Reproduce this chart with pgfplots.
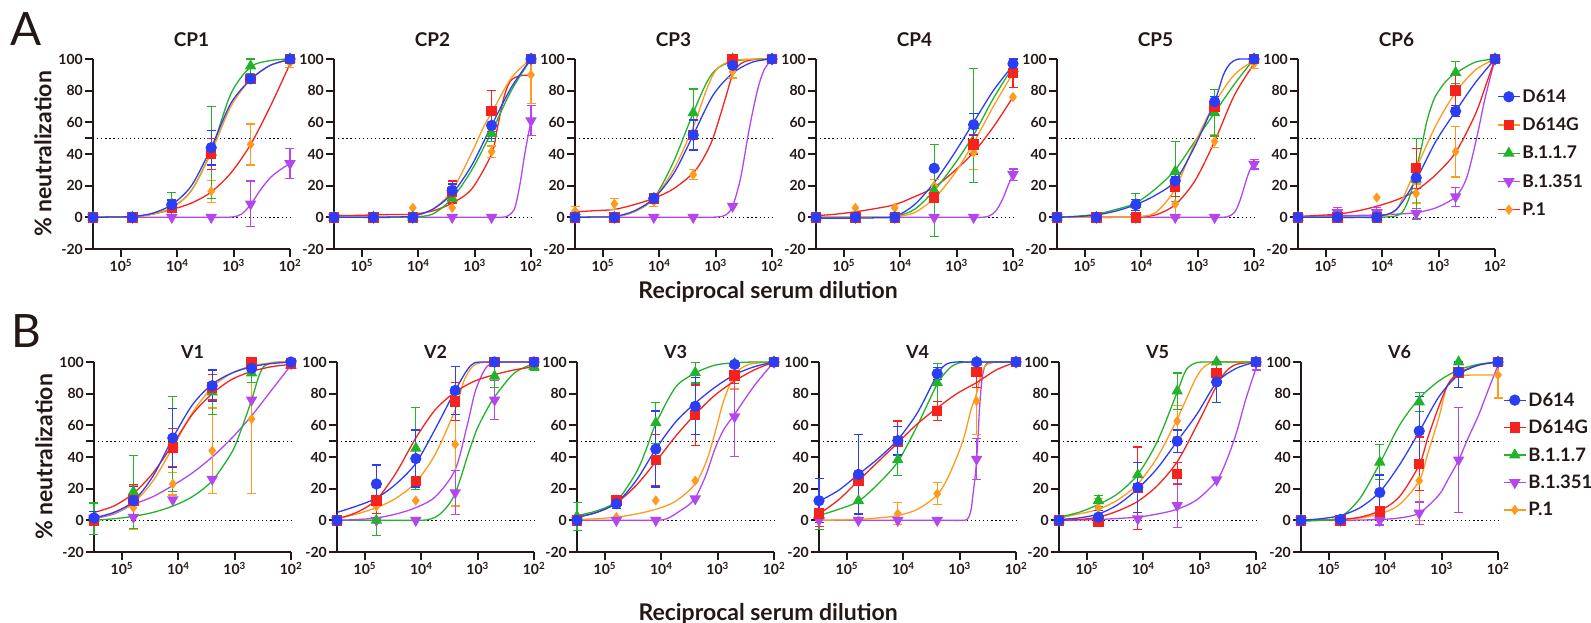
\documentclass[border=0pt]{standalone}
\usepackage{fontspec}
\setmainfont{Lato}
\usepackage{pgfplots}
\pgfplotsset{compat=1.18}

\definecolor{ink}{HTML}{231815}
\definecolor{cb}{HTML}{2B3DF5}
\definecolor{cr}{HTML}{F5231C}
\definecolor{cg}{HTML}{22B32A}
\definecolor{cp}{HTML}{B446EE}
\definecolor{co}{HTML}{FF9A1F}

\newcommand\tfont{\fontsize{14}{16}\selectfont\bfseries}

\pgfplotsset{
  panel/.style={
    scale only axis, width=197pt, height=190pt,
    xmin=2, xmax=5.495, x dir=reverse, ymin=-20, ymax=100, clip=false,
    axis x line*=bottom, axis y line*=left,
    axis line style={line width=2.2pt, draw=ink},
    tick align=outside, major tick length=8pt,
    every tick/.style={line width=2pt, draw=ink},
    xtick={2,3,4,5},
    xticklabels={10\textsuperscript{2},10\textsuperscript{3},10\textsuperscript{4},10\textsuperscript{5}},
    ytick={-20,0,20,40,60,80,100},
    yticklabels={-20,0,20,40,60,80,100},
    extra y ticks={50}, extra y tick labels={},
    tick label style={font=\tfont, text=ink},
    yticklabel style={inner sep=2pt},
    xticklabel style={inner sep=2pt},
  },
  rowA/.style={panel, every axis title/.style={at={(0.5,1)}, anchor=center, yshift=19pt,
      font=\fontsize{19}{21}\selectfont\bfseries, text=ink}},
  rowB/.style={panel, every axis title/.style={at={(0.5,1)}, anchor=center, yshift=10pt,
      font=\fontsize{18}{20}\selectfont\bfseries, text=ink}},
  ylab/.style={ylabel={\% neutralization},
    every axis y label/.style={at={(axis description cs:-0.254,0.5)}, anchor=center, rotate=90,
      font=\fontsize{23}{25}\selectfont\bfseries, text=ink}},
  xlab/.style={xlabel={Reciprocal serum dilution},
    every axis x label/.style={at={(axis description cs:#1)}, anchor=center,
      font=\fontsize{23}{25}\selectfont\bfseries, text=ink}},
  refl/.style={black, line width=1.3pt, dash pattern=on 1.3pt off 2.8pt, forget plot},
  cur/.style={smooth, line width=1.3pt, mark=none},
  dat/.style={only marks, line width=1.2pt,
    /pgfplots/error bars/y dir=both, /pgfplots/error bars/y explicit,
    /pgfplots/error bars/error bar style={line width=1.2pt},
    /pgfplots/error bars/error mark options={rotate=90, mark size=4.5pt, line width=1.2pt}},
  sD/.style={dat, cb, mark=*, mark size=5pt},
  sG/.style={dat, cr, mark=square*, mark size=4.6pt},
  sK/.style={dat, cg, mark=triangle*, mark size=5.5pt},
  sS/.style={dat, cp, mark=triangle*, mark size=5.5pt, mark options={rotate=180}},
  sP/.style={dat, co, mark=diamond*, mark size=4.2pt},
  leg/.style={legend style={at={(axis description cs:#1)}, anchor=north west, draw=none, fill=none,
      inner sep=0pt, text=ink, /tikz/column 2/.style={column sep=10pt}},
    legend cell align=left,
    legend image code/.code={\draw[mark repeat=2, mark phase=2, ##1] plot coordinates {(0pt,0pt) (11pt,0pt) (22pt,0pt)};}},
}

\newcommand\refs{%
  \addplot[refl] coordinates {(5.495,0) (2,0)};
  \addplot[refl] coordinates {(5.495,50) (2,50)};}

\begin{document}
\begin{tikzpicture}
\path[use as bounding box] (0pt,0pt) rectangle (1591pt,-623pt);
\node[font=\fontsize{46}{46}\selectfont, text=ink] at (26pt,-29pt) {A};
\node[font=\fontsize{46}{46}\selectfont, text=ink] at (26pt,-331pt) {B};

% ---------------- row A ----------------
\begin{axis}[rowA, ylab, at={(93pt,-249pt)}, title={CP1}]
\refs
\addplot[cur,cp] coordinates {(5.495,0)(5.146,0)(4.796,0)(4.447,0)(4.097,0)(3.748,0)(3.398,0)(3.2,0)(3.007,0.3)(2.86,2)(2.699,8)(2.531,17)(2.35,25)(2.175,30)(2,34)};
\addplot[cur,cr] coordinates {(5.495,0)(5.146,0.2)(4.796,0.5)(4.447,2)(4.097,5)(3.748,9)(3.398,16)(3.049,28)(2.699,46)(2.35,70)(2,97)};
\addplot[cur,cg] coordinates {(5.495,0)(5.146,0.1)(4.796,0.3)(4.447,2)(4.097,6)(3.748,17)(3.398,42)(3.049,78)(2.699,95)(2.35,99)(2,100)};
\addplot[cur,co] coordinates {(5.495,0)(5.146,0.2)(4.796,0.5)(4.447,2)(4.097,6)(3.748,17)(3.398,41)(3.049,70)(2.699,87)(2.35,96)(2,100)};
\addplot[cur,cb] coordinates {(5.495,0)(5.146,0.2)(4.796,0.5)(4.447,2.5)(4.097,8)(3.748,20)(3.398,44)(3.049,72)(2.699,87)(2.35,96)(2,99.5)};
\addplot[sP] coordinates {(5.495,0) (4.796,0) (4.097,7) +- (0,4) (3.398,16.5) +- (0,7) (2.699,46) +- (0,13) (2,97.5) +- (0,3)};
\addplot[sS] coordinates {(5.495,0) (4.796,0) (4.097,0) (3.398,0) (2.699,8.5) +- (0,14.5) (2,34) +- (0,9.5)};
\addplot[sK] coordinates {(5.495,0) (4.796,0) (4.097,8.5) +- (0,7) (3.398,41) +- (0,29) (2.699,95.5) += (0,4.5) -= (0,5) (2,100)};
\addplot[sG] coordinates {(5.495,0) (4.796,0) (4.097,6) +- (0,2) (3.398,40) +- (0,10) (2.699,87.5) +- (0,2) (2,100)};
\addplot[sD] coordinates {(5.495,0) (4.796,0) (4.097,8) +- (0,3) (3.398,44) +- (0,11) (2.699,87.5) +- (0,2) (2,100)};
\end{axis}

\begin{axis}[rowA, at={(334pt,-249pt)}, title={CP2}]
\refs
\addplot[cur,cp] coordinates {(5.495,0)(5.146,0)(4.796,0)(4.447,0)(4.097,0)(3.748,0)(3.398,0)(3.049,0)(2.8,0)(2.6,0)(2.45,0.3)(2.35,2.5)(2.296,5)(2.25,11)(2.19,22)(2.12,38)(2.06,50)(2,61)};
\addplot[cur,cr] coordinates {(5.495,1)(5.146,1.2)(4.796,1.5)(4.447,1.8)(4.097,2)(3.748,4)(3.398,9)(3.049,18)(2.699,40)(2.605,55)(2.486,75)(2.368,86)(2.19,89.5)(2,89.7)};
\addplot[cur,cg] coordinates {(5.495,0)(5.146,0)(4.796,0)(4.447,0)(4.097,0.3)(3.748,2)(3.398,12)(3.049,30)(2.699,54)(2.35,80)(2,100)};
\addplot[cur,co] coordinates {(5.495,0)(5.146,0)(4.796,0)(4.447,0.2)(4.097,0.8)(3.748,5)(3.398,17)(3.049,41)(2.842,57)(2.699,66)(2.35,88)(2,100)};
\addplot[cur,cb] coordinates {(5.495,0)(5.146,0)(4.796,0)(4.447,0.2)(4.097,0.8)(3.748,5)(3.398,15)(3.049,33)(2.699,58)(2.35,82)(2,100)};
\addplot[sP] coordinates {(5.495,0) (4.796,0) (4.097,6) (3.398,6) (2.699,41.5) +- (0,3.5) (2,90) += (0,10) -= (0,18)};
\addplot[sS] coordinates {(5.495,0) (4.796,0) (4.097,0) (3.398,0) (2.699,0) (2,61) +- (0,9.5)};
\addplot[sK] coordinates {(5.495,0) (4.796,0) (4.097,0) (3.398,12) +- (0,3) (2.699,53) +- (0,5) (2,100)};
\addplot[sG] coordinates {(5.495,0) (4.796,0) (4.097,0) (3.398,16) +- (0,7) (2.699,67) +- (0,13) (2,100)};
\addplot[sD] coordinates {(5.495,0) (4.796,0) (4.097,0) (3.398,17) +- (0,4) (2.699,58) +- (0,8) (2,100)};
\end{axis}

\begin{axis}[rowA, xlab={0.98,-0.226}, at={(575pt,-249pt)}, title={CP3}]
\refs
\addplot[cur,cp] coordinates {(5.495,0)(5.146,0)(4.796,0)(4.447,0)(4.097,0)(3.748,0)(3.398,0)(3.15,0)(2.95,0.3)(2.82,1.5)(2.699,7)(2.556,25)(2.408,55)(2.26,80)(2.142,93)(2,100)};
\addplot[cur,cr] coordinates {(5.495,3.5)(5.146,4.2)(4.796,5)(4.447,8)(4.097,12)(3.748,18)(3.398,28)(3.206,38)(3.047,50)(2.853,72)(2.699,90)(2.556,97)(2.35,99.5)(2,100)};
\addplot[cur,cg] coordinates {(5.495,0)(5.146,0.1)(4.796,0.3)(4.447,3.5)(4.097,12)(3.748,35)(3.398,66)(3.147,86)(2.97,94)(2.699,98.5)(2.35,99.8)(2,100)};
\addplot[cur,co] coordinates {(5.495,0)(5.146,0.1)(4.796,0.3)(4.447,3.5)(4.097,12)(3.748,30)(3.398,57)(3.147,82)(2.97,94)(2.699,99)(2.35,99.9)(2,100)};
\addplot[cur,cb] coordinates {(5.495,0)(5.146,0.2)(4.796,0.5)(4.448,4)(4.097,12)(3.738,28)(3.398,52)(3.049,77)(2.699,91)(2.35,98)(2,100)};
\addplot[sP] coordinates {(5.495,4) +- (0,3) (4.796,8.5) +- (0,3.5) (4.097,10) +- (0,3) (3.398,27) +- (0,3) (2.699,92) +- (0,4) (2,100)};
\addplot[sS] coordinates {(5.495,0) (4.796,0) (4.097,0) (3.398,0) (2.699,7) (2,100)};
\addplot[sK] coordinates {(5.495,0) (4.796,0) (4.097,12) (3.398,66) +- (0,15) (2.699,100) (2,100)};
\addplot[sG] coordinates {(5.495,0) (4.796,0) (4.097,12) (3.398,52) (2.699,100) (2,100)};
\addplot[sD] coordinates {(5.495,0) (4.796,0) (4.097,12) (3.398,52) +- (0,9.5) (2.699,96) +- (0,2) (2,100)};
\end{axis}

\begin{axis}[rowA, at={(816pt,-249pt)}, title={CP4}]
\refs
\addplot[cur,cp] coordinates {(5.495,0)(5.146,0)(4.796,0)(4.447,0)(4.097,0)(3.748,0)(3.398,0)(3.049,0)(2.8,0)(2.58,0)(2.45,0.5)(2.35,2.5)(2.284,5)(2.22,9)(2.165,13)(2.077,21)(2,27)};
\addplot[cur,cr] coordinates {(5.495,1)(5.146,2)(4.796,3.5)(4.447,5.5)(4.097,8)(3.748,13)(3.398,19)(3.049,29)(2.699,41)(2.35,57)(2,76)};
\addplot[cur,cg] coordinates {(5.495,0)(5.146,0)(4.796,0)(4.447,0)(4.097,0.5)(3.748,5)(3.398,17)(3.049,33)(2.699,52)(2.35,75)(2,95)};
\addplot[cur,co] coordinates {(5.495,0)(5.146,0)(4.796,0)(4.447,0)(4.097,0.3)(3.748,3)(3.398,12)(3.049,27)(2.699,47)(2.35,70)(2,91)};
\addplot[cur,cb] coordinates {(5.495,-0.5)(5.146,-0.5)(4.796,-0.5)(4.447,-0.3)(4.097,0.5)(3.748,8)(3.398,22)(3.049,40)(2.699,60)(2.35,80)(2,96)};
\addplot[sP] coordinates {(5.495,0) (4.796,6) (4.097,6) (3.398,20) +- (0,4) (2.699,41) +- (0,11) (2,76)};
\addplot[sS] coordinates {(5.495,0) (4.796,0) (4.097,0) (3.398,0) (2.699,0) (2,27) +- (0,3.5)};
\addplot[sK] coordinates {(5.495,0) (4.796,0) (4.097,0) (3.398,17) +- (0,29) (2.699,58) +- (0,36) (2,94)};
\addplot[sG] coordinates {(5.495,0) (4.796,0) (4.097,0) (3.398,12.5) (2.699,46) +- (0,6) (2,91) +- (0,9)};
\addplot[sD] coordinates {(5.495,0) (4.796,0) (4.097,0) (3.398,31) (2.699,58.5) +- (0,7) (2,97) +- (0,3)};
\end{axis}

\begin{axis}[rowA, at={(1057pt,-249pt)}, title={CP5}]
\refs
\addplot[cur,cp] coordinates {(5.495,0)(5.146,0)(4.796,0)(4.447,0)(4.097,0)(3.748,0)(3.398,0)(3.049,0)(2.8,0)(2.6,0)(2.48,0.3)(2.4,1.5)(2.35,3)(2.30,6)(2.25,10.5)(2.2,16)(2.15,22)(2.1,27.5)(2.05,31.5)(2,34)};
\addplot[cur,cr] coordinates {(5.495,0)(5.146,0)(4.796,0)(4.447,0)(4.097,0.2)(3.748,1.5)(3.398,8)(3.049,23)(2.699,48)(2.35,77)(2,97)};
\addplot[cur,cg] coordinates {(5.495,0)(5.146,0.7)(4.796,2)(4.447,5)(4.097,9)(3.748,18)(3.398,30)(3.049,48)(2.699,66)(2.35,84)(2,100)};
\addplot[cur,co] coordinates {(5.495,0)(5.146,0)(4.796,0)(4.447,0)(4.097,0.3)(3.748,3)(3.398,18)(3.049,47)(2.699,72)(2.35,90)(2,99)};
\addplot[cur,cb] coordinates {(5.495,0)(5.146,0.5)(4.796,1.5)(4.447,4)(4.097,8)(3.748,14)(3.398,23)(3.049,45)(2.699,73)(2.543,90)(2.425,97)(2.307,99.7)(2.15,100)(2,100)};
\addplot[sP] coordinates {(5.495,0) (4.796,0) (4.097,0) (3.398,8.4) +- (0,9) (2.699,48) +- (0,4) (2,97) +- (0,3)};
\addplot[sS] coordinates {(5.495,0) (4.796,0) (4.097,0) (3.398,0) (2.699,0) (2,33.5) +- (0,3)};
\addplot[sK] coordinates {(5.495,0) (4.796,0) (4.097,8) +- (0,7) (3.398,29) +- (0,19) (2.699,66) +- (0,14.6) (2,100)};
\addplot[sG] coordinates {(5.495,0) (4.796,0) (4.097,0) (3.398,19) +- (0,6) (2.699,70) +- (0,3) (2,100)};
\addplot[sD] coordinates {(5.495,0) (4.796,0) (4.097,8) +- (0,3.5) (3.398,23) +- (0,3) (2.699,73) +- (0,3.5) (2,100)};
\end{axis}

\begin{axis}[rowA, at={(1298pt,-249pt)}, title={CP6}, leg={1.01,0.85},
  legend style={font=\fontsize{17.5}{19}\selectfont\bfseries, row sep=10pt}]
\addlegendimage{cb, line width=1.3pt, mark=*, mark size=5pt}
\addlegendimage{co, line width=1.3pt, mark=square*, mark size=4.6pt, mark options={draw=cr, fill=cr}}
\addlegendimage{cg, line width=1.3pt, mark=triangle*, mark size=5.5pt}
\addlegendimage{cp, line width=1.3pt, mark=triangle*, mark size=5.5pt, mark options={rotate=180}}
\addlegendimage{cr, line width=1.3pt, mark=diamond*, mark size=4.2pt, mark options={draw=co, fill=co}}
\legend{D614, D614G, B.1.1.7, B.1.351, P.1}
\refs
\addplot[cur,cp] coordinates {(5.495,0.5)(5.146,0.8)(4.796,1)(4.447,1.2)(4.097,1.5)(3.748,2)(3.398,3)(3.049,6)(2.699,13)(2.503,25)(2.326,50)(2.178,75)(2,100)};
\addplot[cur,cr] coordinates {(5.495,0.5)(5.146,1.2)(4.796,2)(4.447,4)(4.097,7)(3.748,11)(3.398,17)(3.049,27)(2.699,41)(2.35,65)(2.148,85)(2,100)};
\addplot[cur,cg] coordinates {(5.495,0)(5.146,0)(4.796,0)(4.447,0)(4.097,0)(3.9,0.3)(3.748,1)(3.65,3)(3.57,8)(3.48,17)(3.398,30)(3.3,45)(3.214,60)(3.13,70)(3.049,77)(2.87,86)(2.699,91)(2.35,98)(2,100)};
\addplot[cur,co] coordinates {(5.495,0)(5.146,0)(4.796,0)(4.447,0)(4.097,0.3)(3.748,5)(3.398,31)(3.049,58)(2.699,79)(2.35,93)(2,100)};
\addplot[cur,cb] coordinates {(5.495,0)(5.146,0)(4.796,0)(4.447,0)(4.097,0.5)(3.748,5)(3.398,24)(3.049,48)(2.699,67)(2.35,85)(2,100)};
\addplot[sP] coordinates {(5.495,0) (4.796,0) (4.097,12.5) (3.398,15) +- (0,6) (2.699,41.5) +- (0,16) (2,100)};
\addplot[sS] coordinates {(5.495,0) (4.796,3) +- (0,3) (4.097,3) +- (0,3) (3.398,2.5) +- (0,3) (2.699,13) +- (0,6) (2,100)};
\addplot[sK] coordinates {(5.495,0) (4.796,0) (4.097,0) (3.398,24) +- (0,25.6) (2.699,91.4) +- (0,7) (2,100)};
\addplot[sG] coordinates {(5.495,0) (4.796,0) (4.097,0) (3.398,31) +- (0,12.7) (2.699,80) +- (0,11) (2,100)};
\addplot[sD] coordinates {(5.495,0) (4.796,0) (4.097,0) (3.398,25) (2.699,67) +- (0,3.5) (2,100)};
\end{axis}

% ---------------- row B ----------------
\begin{axis}[rowB, ylab, at={(94pt,-552pt)}, title={V1}]
\refs
\addplot[cur,cp] coordinates {(5.495,1)(5.146,4)(4.796,10)(4.447,15)(4.097,22)(3.748,30)(3.398,40)(3.049,52)(2.699,66)(2.35,82)(2,98)};
\addplot[cur,cg] coordinates {(5.495,0)(5.146,1)(4.796,2.5)(4.447,5)(4.097,9)(3.748,15)(3.398,25)(3.049,43)(2.876,58)(2.699,76)(2.58,90)(2.486,97)(2.35,99.5)(2.17,100)(2,100)};
\addplot[cur,co] coordinates {(5.495,1.5)(5.146,4.5)(4.796,11)(4.447,25)(4.097,46)(3.748,68)(3.398,84)(3.049,93)(2.699,97.5)(2.35,99.5)(2,100.5)};
\addplot[cur,cr] coordinates {(5.495,5)(5.146,9)(4.796,17)(4.447,30)(4.097,48)(3.748,67)(3.398,80)(3.049,89)(2.699,94)(2.35,97)(2,98.5)};
\addplot[cur,cb] coordinates {(5.495,1.5)(5.146,5)(4.796,12)(4.447,28)(4.097,52)(3.748,73)(3.398,86)(3.049,93)(2.699,97)(2.35,99)(2,100)};
\addplot[sP] coordinates {(5.495,1) (4.796,8) +- (0,14) (4.097,23) +- (0,7) (3.398,44) +- (0,27) (2.699,64) += (0,36) -= (0,47) (2,100)};
\addplot[sS] coordinates {(5.495,1) (4.796,2) (4.097,13) (3.398,26) (2.699,76) (2,99)};
\addplot[sK] coordinates {(5.495,1) +- (0,10) (4.796,18) +- (0,23) (4.097,48) +- (0,30) (3.398,81) +- (0,14) (2.699,93) +- (0,6) (2,98) +- (0,2)};
\addplot[sG] coordinates {(5.495,0) (4.796,12.5) +- (0,10) (4.097,46) +- (0,12) (3.398,84) +- (0,8) (2.699,100) (2,99)};
\addplot[sD] coordinates {(5.495,1.5) +- (0,4) (4.796,12.5) +- (0,9) (4.097,52) +- (0,18.5) (3.398,85) +- (0,10) (2.699,96) +- (0,4) (2,100)};
\end{axis}

\begin{axis}[rowB, at={(337pt,-552pt)}, title={V2}]
\refs
\addplot[cur,cg] coordinates {(5.495,0)(5.146,0)(4.796,0)(4.447,0)(4.097,0)(3.9,0.3)(3.748,2)(3.62,5.5)(3.511,10)(3.398,17)(3.29,28)(3.185,40)(3.1,49)(3.007,58)(2.85,69)(2.699,78)(2.35,93)(2,99)};
\addplot[cur,cp] coordinates {(5.495,0)(5.146,0.5)(4.796,1.5)(4.447,4)(4.097,8)(3.748,15)(3.398,32)(3.185,60)(3.037,82)(2.859,96)(2.699,99.5)(2.35,100)(2,100)};
\addplot[cur,co] coordinates {(5.495,1)(5.146,4)(4.796,8)(4.447,14)(4.097,24)(3.748,42)(3.398,70)(3.244,88)(3.096,97)(2.948,99.5)(2.699,100)(2.35,100)(2,100)};
\addplot[cur,cr] coordinates {(5.495,1)(5.146,5)(4.796,13)(4.447,30)(4.097,52)(3.748,70)(3.398,81)(3.049,88)(2.699,92)(2.35,95)(2,97)};
\addplot[cur,cb] coordinates {(5.495,5)(5.146,9)(4.796,14)(4.447,23)(4.097,36)(3.748,58)(3.398,82)(3.185,95)(3.054,99.5)(2.85,100)(2.699,100)(2.35,100)(2,100)};
\addplot[sP] coordinates {(5.495,0) (4.796,8.8) (4.097,12.5) (3.398,48) +- (0,39) (2.699,100) (2,100)};
\addplot[sS] coordinates {(5.495,0) (4.796,0) (4.097,0) (3.398,17.5) +- (0,14) (2.699,76) +- (0,12.4) (2,100)};
\addplot[sK] coordinates {(5.495,0) (4.796,0) +- (0,9.5) (4.097,45.5) +- (0,26) (3.398,82) +- (0,15) (2.699,91) +- (0,7) (2,97) +- (0,2)};
\addplot[sG] coordinates {(5.495,0) (4.796,12.5) +- (0,8) (4.097,25) (3.398,75) +- (0,12) (2.699,100) (2,100)};
\addplot[sD] coordinates {(5.495,0) (4.796,23) +- (0,12) (4.097,39) +- (0,18) (3.398,82) +- (0,15) (2.699,100) (2,100)};
\end{axis}

\begin{axis}[rowB, xlab={0.97,-0.327}, at={(577pt,-552pt)}, title={V3}]
\refs
\addplot[cur,cp] coordinates {(5.495,0)(5.146,0)(4.796,0)(4.447,0)(4.097,0)(3.95,0.5)(3.842,2)(3.665,6)(3.52,9.5)(3.398,14)(3.3,21)(3.192,30)(3.049,45)(2.897,57)(2.699,67)(2.35,85)(2,100)};
\addplot[cur,co] coordinates {(5.495,0.5)(5.146,1)(4.796,2)(4.447,4)(4.097,7)(3.748,12)(3.398,23)(3.192,38)(3.049,55)(2.897,75)(2.699,92)(2.484,98)(2.25,99.5)(2,100)};
\addplot[cur,cr] coordinates {(5.495,2)(5.146,5)(4.796,11)(4.447,22)(4.097,37)(3.748,53)(3.398,67)(3.049,79)(2.699,88)(2.35,95)(2,100)};
\addplot[cur,cg] coordinates {(5.495,3)(5.146,6)(4.796,12)(4.447,30)(4.255,46)(4.097,61)(3.748,84)(3.398,93)(3.049,98)(2.699,99.5)(2.35,100)(2,100)};
\addplot[cur,cb] coordinates {(5.495,2)(5.146,5)(4.796,11)(4.447,25)(4.097,45)(3.748,62)(3.398,74)(3.049,84)(2.699,92)(2.35,97)(2,100)};
\addplot[sP] coordinates {(5.495,0) (4.796,2) (4.097,12.6) (3.398,25) (2.699,91) +- (0,8) (2,100)};
\addplot[sS] coordinates {(5.495,0) (4.796,0) (4.097,0) (3.398,13.6) (2.699,65.4) +- (0,25) (2,100)};
\addplot[sK] coordinates {(5.495,2.5) +- (0,9) (4.796,12) (4.097,61.6) +- (0,13) (3.398,93.3) +- (0,6.5) (2.699,99) (2,100)};
\addplot[sG] coordinates {(5.495,0) (4.796,12.6) (4.097,38) +- (0,16) (3.398,66.5) +- (0,19) (2.699,91.6) +- (0,5) (2,100)};
\addplot[sD] coordinates {(5.495,0) (4.796,10.5) +- (0,3) (4.097,45) +- (0,24) (3.398,72) +- (0,18) (2.699,98.5) (2,100)};
\end{axis}

\begin{axis}[rowB, at={(819pt,-552pt)}, title={V4}]
\refs
\addplot[cur,cp] coordinates {(5.495,0)(5.146,0)(4.796,0)(4.447,0)(4.097,0)(3.748,0)(3.398,0)(3.15,0)(2.95,0)(2.87,0.5)(2.826,3)(2.79,8)(2.768,15)(2.73,26)(2.699,38)(2.67,55)(2.649,70)(2.62,83)(2.591,92)(2.55,97.5)(2.502,99.5)(2.42,100)(2.35,100)(2.17,100)(2,100)};
\addplot[cur,co] coordinates {(5.495,0)(5.146,0.2)(4.796,0.5)(4.447,1.5)(4.097,3)(3.748,7)(3.398,16)(3.181,29)(2.944,50)(2.797,70)(2.699,80)(2.62,92)(2.531,98)(2.354,100)(2.17,100)(2,100)};
\addplot[cur,cg] coordinates {(5.495,3)(5.146,7)(4.796,12)(4.447,23)(4.097,37)(3.748,60)(3.398,86)(3.181,96)(3.004,99.5)(2.699,100)(2.35,100)(2,100)};
\addplot[cur,cr] coordinates {(5.495,4)(5.146,13)(4.796,25)(4.447,37)(4.097,49)(3.748,61)(3.398,71)(3.049,80)(2.699,87)(2.35,95)(2,100)};
\addplot[cur,cb] coordinates {(5.495,12)(5.146,19)(4.796,29)(4.447,39)(4.097,51)(3.748,68)(3.398,92)(3.24,98.5)(3.063,100)(2.85,100)(2.699,100)(2.35,100)(2,100)};
\addplot[sP] coordinates {(5.495,0) (4.796,0) (4.097,4.2) +- (0,7) (3.398,16.8) +- (0,7) (2.699,75.3) +- (0,21) (2,100)};
\addplot[sS] coordinates {(5.495,0) (4.796,0) (4.097,0) (3.398,0) (2.699,38.6) +- (0,13) (2,100)};
\addplot[sK] coordinates {(5.495,3) +- (0,9) (4.796,12.4) (4.097,38.2) +- (0,10) (3.398,87) +- (0,12) (2.699,100) (2,100)};
\addplot[sG] coordinates {(5.495,4.2) +- (0,8) (4.796,25) (4.097,49.7) +- (0,13) (3.398,69) +- (0,6) (2.699,93.7) += (0,6.3) -= (0,10) (2,100)};
\addplot[sD] coordinates {(5.495,12.4) +- (0,14) (4.796,29) +- (0,25) (4.097,50.3) +- (0,9) (3.398,92.7) +- (0,4) (2.699,100) (2,100)};
\end{axis}

\begin{axis}[rowB, at={(1059pt,-552pt)}, title={V5}]
\refs
\addplot[cur,cp] coordinates {(5.495,0)(5.146,0.2)(4.796,0.5)(4.447,1.2)(4.097,2)(3.748,4)(3.398,7)(3.049,13)(2.699,25)(2.531,37)(2.35,55)(2.177,77)(2,96)};
\addplot[cur,cr] coordinates {(5.495,0)(5.146,0.5)(4.796,2)(4.447,6)(4.097,12)(3.748,22)(3.398,37)(3.049,60)(2.699,85)(2.531,94)(2.35,98.5)(2,100)};
\addplot[cur,co] coordinates {(5.495,1.5)(5.146,4)(4.796,7)(4.447,13)(4.097,23)(3.748,40)(3.398,64)(3.063,90)(2.885,98)(2.699,100)(2.35,100)(2,100)};
\addplot[cur,cg] coordinates {(5.495,2)(5.146,5)(4.796,10)(4.447,17)(4.097,29)(3.748,50)(3.398,81)(3.24,95)(3.063,99.5)(2.85,100)(2.699,100)(2.35,100)(2,100)};
\addplot[cur,cb] coordinates {(5.495,0.5)(5.146,1.5)(4.796,4)(4.447,10)(4.097,20)(3.748,33)(3.398,50)(3.049,67)(2.699,87)(2.35,96)(2,100)};
\addplot[sP] coordinates {(5.495,0) (4.796,7.8) +- (0,6) (4.097,20) (3.398,62.7) +- (0,10) (2.699,100) (2,100)};
\addplot[sS] coordinates {(5.495,0) (4.796,0) (4.097,1) (3.398,9.4) +- (0,14) (2.699,25.6) (2,100) -= (0,5)};
\addplot[sK] coordinates {(5.495,0) (4.796,12.4) +- (0,3.5) (4.097,28.7) (3.398,81.6) +- (0,11.5) (2.699,100) (2,100)};
\addplot[sG] coordinates {(5.495,0) (4.796,-1) +- (0,2) (4.097,20.3) +- (0,26) (3.398,29.4) +- (0,7) (2.699,93.1) (2,100)};
\addplot[sD] coordinates {(5.495,0) (4.796,2) +- (0,4) (4.097,20.8) +- (0,15.7) (3.398,50) +- (0,7) (2.699,87.4) += (0,12.6) -= (0,13) (2,100)};
\end{axis}

\begin{axis}[rowB, at={(1301pt,-552pt)}, title={V6}, leg={1.025,0.85},
  legend style={font=\fontsize{18.5}{20}\selectfont\bfseries, row sep=8.5pt, /tikz/column 2/.style={column sep=4pt}}]
\addlegendimage{cb, line width=1.3pt, mark=*, mark size=5pt}
\addlegendimage{cr, line width=1.3pt, mark=square*, mark size=4.6pt}
\addlegendimage{cg, line width=1.3pt, mark=triangle*, mark size=5.5pt}
\addlegendimage{cp, line width=1.3pt, mark=triangle*, mark size=5.5pt, mark options={rotate=180}}
\addlegendimage{co, line width=1.3pt, mark=diamond*, mark size=4.2pt}
\legend{D614, D614G, B.1.1.7, B.1.351, P.1}
\refs
\addplot[cur,cp] coordinates {(5.495,0)(5.146,0)(4.796,0)(4.447,0.2)(4.097,0.5)(3.748,1.5)(3.398,4.6)(3.049,16)(2.884,26)(2.699,38)(2.53,52)(2.35,66)(2.177,82)(2,98)};
\addplot[cur,co] coordinates {(5.495,0)(5.146,0.2)(4.796,0.5)(4.447,1.5)(4.097,4)(3.748,10)(3.398,25)(3.238,43)(3.049,65)(2.914,84)(2.795,90.5)(2.699,91.5)(2.35,91.8)(2,91.8)};
\addplot[cur,cr] coordinates {(5.495,0)(5.146,0.2)(4.796,0.5)(4.447,2)(4.097,6)(3.748,15)(3.398,35)(3.238,53)(3.049,72)(2.884,86)(2.699,93)(2.35,98)(2,100)};
\addplot[cur,cg] coordinates {(5.495,-0.5)(5.146,0)(4.796,2)(4.447,14)(4.097,36)(3.748,60)(3.398,77)(3.049,88)(2.699,95)(2.35,98.5)(2,100)};
\addplot[cur,cb] coordinates {(5.495,0)(5.146,1)(4.796,3)(4.447,8)(4.097,18)(3.748,35)(3.398,56)(3.049,78)(2.699,92)(2.35,98)(2,100)};
\addplot[sP] coordinates {(5.495,0) (4.796,0) (4.097,5) (3.398,25) +- (0,25) (2.699,93) (2,91.8) += (0,8.2) -= (0,14.5)};
\addplot[sS] coordinates {(5.495,0) (4.796,0) (4.097,0) +- (0,3) (3.398,4.6) +- (0,7) (2.699,38.2) +- (0,33) (2,100)};
\addplot[sK] coordinates {(5.495,0) (4.796,0) (4.097,36.7) +- (0,11) (3.398,74.8) +- (0,6) (2.699,100) (2,100)};
\addplot[sG] coordinates {(5.495,0) (4.796,0) (4.097,5.7) (3.398,35.6) +- (0,17) (2.699,93.3) (2,100)};
\addplot[sD] coordinates {(5.495,0) (4.796,0.5) (4.097,17.6) +- (0,11) (3.398,56.4) +- (0,22) (2.699,93.7) += (0,6.3) -= (0,10) (2,100)};
\end{axis}
\end{tikzpicture}
\end{document}
